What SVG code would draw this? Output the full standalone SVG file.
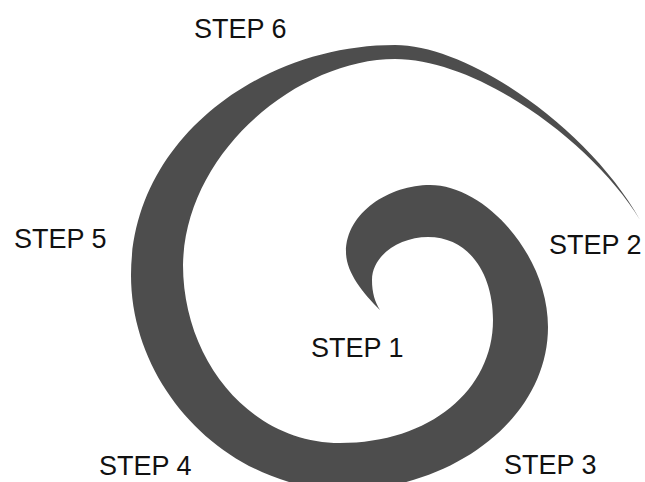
<svg xmlns="http://www.w3.org/2000/svg" width="645" height="482" viewBox="0 0 645 482">
<style>
.lbl{font-family:"Liberation Sans",Arial,Helvetica,sans-serif;font-size:27px;fill:#111}
.spiral{fill:#4d4d4d}
</style>
<rect width="645" height="482" fill="#fff"/>
<g id="spiral">
<path class="spiral" d="M380,310 C362,292 346,272 346,252 C346,212 390,185 430,185 C485,185 548,255 548,327 C548,420 450,490 345,490 C230,490 131,390 131,275 C131,140 260,45 395,45 C470,45 590,130 640,220 C595,145 480,59 395,59 C300,59 185,150 183,265 C183,360 250,443 340,443 C430,443 493,390 493,320 C493,275 470,237 428,237 C400,237 372,255 372,280 C372,293 375,302 380,310 Z"/>
</g>
<g id="step1"><text class="lbl" x="311" y="357">STEP 1</text></g>
<g id="step2"><text class="lbl" x="549" y="254">STEP 2</text></g>
<g id="step3"><text class="lbl" x="504" y="474">STEP 3</text></g>
<g id="step4"><text class="lbl" x="99" y="475">STEP 4</text></g>
<g id="step5"><text class="lbl" x="14" y="248">STEP 5</text></g>
<g id="step6"><text class="lbl" x="194" y="38">STEP 6</text></g>
</svg>
